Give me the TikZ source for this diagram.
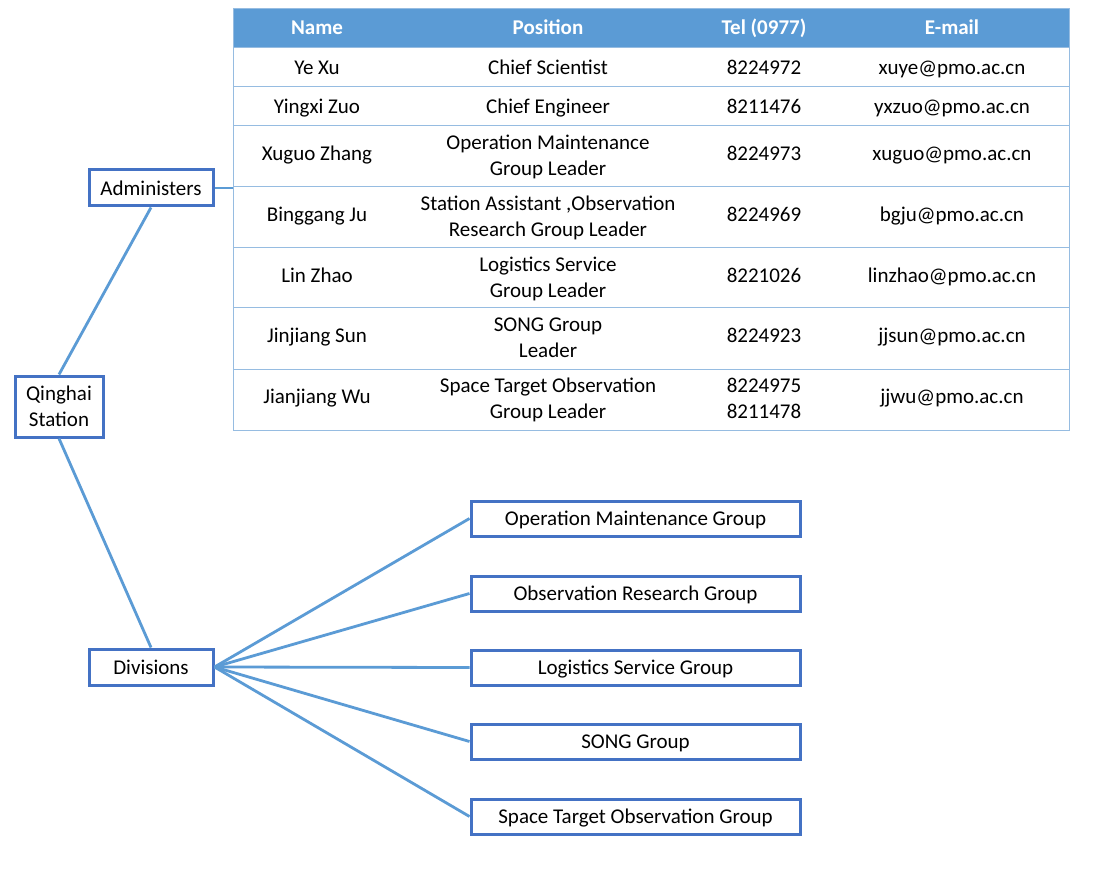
\documentclass[tikz,border=0pt]{standalone}
\usepackage{fontspec}
\setmainfont{Carlito}
\usetikzlibrary{positioning}
\definecolor{boxblue}{RGB}{68,114,196}
\definecolor{lineblue}{RGB}{91,155,213}
\definecolor{gridblue}{RGB}{150,188,225}

\begin{document}
\begin{tikzpicture}[x=1pt,y=-1pt,
    box/.style={draw=boxblue,line width=3pt,fill=white,align=center,inner sep=2pt,
                font=\fontsize{21}{26}\selectfont},
    grpbox/.style={box,minimum width=329pt,minimum height=35pt,text height=18pt,text depth=5pt},
    link/.style={draw=lineblue,line width=2.8pt},
    cell/.style={align=center,inner sep=0pt,font=\fontsize{21}{26}\selectfont,
                 execute at begin node=\strut,execute at end node=\strut},
    headcell/.style={cell,text=white,font=\fontsize{21}{26}\selectfont\bfseries}]
      \fill[white] (0,0) rectangle (1096,869);
      \useasboundingbox (0,0) rectangle (1096,869);

      % table
      \fill[lineblue] (233,9) rectangle (1069,48);
      \foreach \y in {48,87,126,187,248,308,369}
        \draw[gridblue,line width=1pt] (233,\y) -- (1069,\y);
      \draw[gridblue,line width=1pt] (233,9) rectangle (1069,430);
      \node[headcell] (hname) at (317,29) {Name};
      \node[headcell] (hpos) at (548,29) {Position};
      \node[headcell] (htel) at (764,29) {Tel (0977)};
      \node[headcell] (hmail) at (952,29) {E-mail};
      % rows: y / dy / name / position / dy position / tel / dy tel / e-mail
      \foreach \yc/\sdy/\nm/\pos/\pdy/\tel/\tdy/\mail [count=\i] in {
          67.5/1.5/Ye Xu/Chief Scientist/1.5/8224972/1.5/xuye@pmo.ac.cn,
          106.5/1.5/Yingxi Zuo/Chief Engineer/1.5/8211476/1.5/yxzuo@pmo.ac.cn,
          156.5/-1/Xuguo Zhang/{Operation Maintenance\\Group Leader}/3/8224973/-1/xuguo@pmo.ac.cn,
          217.5/-1/Binggang Ju/{Station Assistant ,Observation\\Research Group Leader}/3/8224969/-1/bgju@pmo.ac.cn,
          278/-1/Lin Zhao/{Logistics Service\\Group Leader}/3/8221026/-1/linzhao@pmo.ac.cn,
          338.5/-1/Jinjiang Sun/{SONG Group\\Leader}/3/8224923/-1/jjsun@pmo.ac.cn,
          399.5/-1/Jianjiang Wu/{Space Target Observation\\Group Leader}/3/{8224975\\8211478}/3/jjwu@pmo.ac.cn}
      {
        \node[cell] (name\i) at (317,\yc+\sdy) {\nm};
        \node[cell] (pos\i) at (548,\yc+\pdy) {\pos};
        \node[cell] (tel\i) at (764,\yc+\tdy) {\tel};
        \node[cell] (mail\i) at (952,\yc+\sdy) {\mail};
      }
      \coordinate (tabwest) at (233,188);

      % tree
      \node[box,minimum width=88pt,minimum height=61pt] (station) at (59,406.5) {Qinghai\\Station};
      \node[box,minimum width=124pt,minimum height=36pt] (admin) at (151,188) {Administers};
      \node[box,minimum width=124pt,minimum height=36pt] (div) at (151,667) {Divisions};
      \foreach \yc/\grp [count=\i] in {518.5/Operation Maintenance Group,
          593.5/Observation Research Group, 667.5/Logistics Service Group,
          741.5/SONG Group, 816.5/Space Target Observation Group}
        \node[grpbox] (grp\i) at (635.5,\yc) {\grp};

      \draw[link] (station.north) -- (admin.south);
      \draw[link] (station.south) -- (div.north);
      \draw[link] (admin.east) -- (tabwest);
      \foreach \i in {1,...,5}
        \draw[link] (div.east) -- (grp\i.west);
\end{tikzpicture}
\end{document}
